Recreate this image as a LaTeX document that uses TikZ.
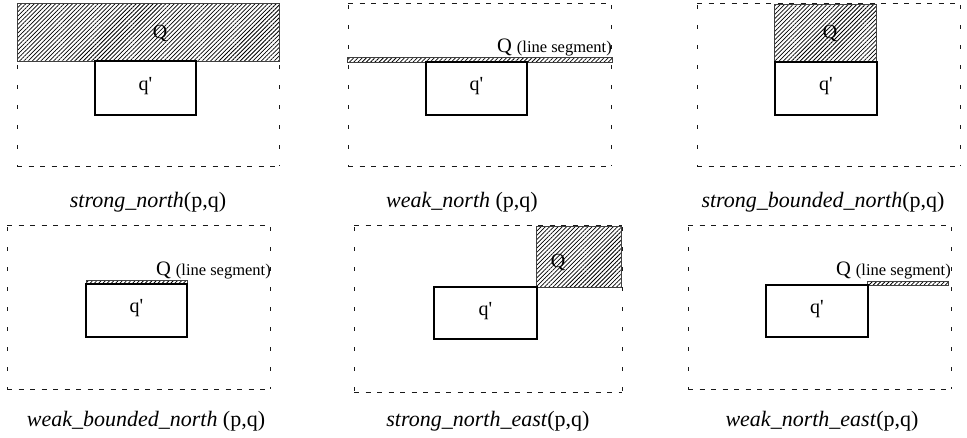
\documentclass[tikz,border=0pt]{standalone}
\usepackage{fontspec}
\setmainfont{Liberation Serif}[Ligatures=TeXOff]
\usetikzlibrary{patterns.meta}
\newcommand{\segsize}{\fontsize{16.5}{18}\selectfont}
\newcommand{\qprime}{q'}
% dashed region: horizontal sides with short gaps, vertical sides sparse
\newcommand{\regionbox}[4]{%
  \draw[hdash] (#1,#2) -- (#3,#2) (#1,#4) -- (#3,#4);
  \draw[vdash] (#1,#2) -- (#1,#4) (#3,#2) -- (#3,#4);}
\begin{document}
\begin{tikzpicture}[x=1pt,y=-1pt,
  hdash/.style={draw=black!90, line width=0.9pt, dash pattern=on 5pt off 6.5pt},
  vdash/.style={draw=black!90, line width=0.9pt, dash pattern=on 4pt off 16pt, dash phase=-2pt},
  hatch/.style={draw=black!75, line width=0.7pt, pattern={Lines[angle=45,distance=3pt,line width=0.75pt]}},
  qbox/.style={draw, line width=1.3pt, fill=white},
  qlab/.style={font=\fontsize{20}{22}\selectfont, inner sep=0pt},
  segq/.style={font=\fontsize{20.5}{22}\selectfont, inner sep=0pt, anchor=base east},
  captxt/.style={font=\fontsize{22}{24}\selectfont, inner sep=0pt, anchor=base},
  qp/.style={font=\fontsize{20}{22}\selectfont, inner sep=0pt}]
\useasboundingbox (0,0) rectangle (967,437);
% ---- panel 1 ----
\regionbox{17}{3}{279}{166}
\draw[hatch] (17,3) rectangle (279,61);
\node[qlab] (q1) at (160,33) {Q};
\draw[qbox] (95,61) rectangle (196,115);
\node[qp] (p1) at (145.5,86) {\qprime};
\node[captxt] (c1) at (148,207) {\textit{strong\_north}(p,q)};
% ---- panel 2 ----
\regionbox{348}{3}{611}{166}
\draw[hatch] (347,57) rectangle (612,62);
\draw[qbox] (426,62) rectangle (527,115);
\node[qp] (p2) at (476.5,86) {\qprime};
\node[segq] (q2) at (612,52) {Q\hspace{0.25em}{\segsize(line segment)}};
\node[captxt] (c2) at (462,207) {\textit{weak\_north} (p,q)};
% ---- panel 3 ----
\regionbox{697}{3}{960}{166}
\draw[hatch] (774,4) rectangle (876,61);
\node[qlab] (q3) at (830,33) {Q};
\draw[qbox] (775,62) rectangle (877,115);
\node[qp] (p3) at (826,86) {\qprime};
\node[captxt] (c3) at (823,207) {\textit{strong\_bounded\_north}(p,q)};
% ---- panel 4 ----
\regionbox{7}{225}{270}{389}
\draw[hatch] (86,280) rectangle (187,284);
\draw[qbox] (86,284) rectangle (187,337);
\node[qp] (p4) at (136.5,308) {\qprime};
\node[segq] (q4) at (271,275) {Q\hspace{0.25em}{\segsize(line segment)}};
\node[captxt] (c4) at (146,426) {\textit{weak\_bounded\_north} (p,q)};
% ---- panel 5 ----
\regionbox{354}{225}{622}{392}
\draw[hatch] (536,226) rectangle (621,287);
\node[qlab] (q5) at (558,262) {Q};
\draw[qbox] (434,287) rectangle (537,339);
\node[qp] (p5) at (485.5,311) {\qprime};
\node[captxt] (c5) at (488,426) {\textit{strong\_north\_east}(p,q)};
% ---- panel 6 ----
\regionbox{688}{225}{951}{389}
\draw[hatch] (867,281) rectangle (948,285);
\draw[qbox] (766,285) rectangle (868,337);
\node[qp] (p6) at (817,309) {\qprime};
\node[segq] (q6) at (951,275) {Q\hspace{0.25em}{\segsize(line segment)}};
\node[captxt] (c6) at (822,426) {\textit{weak\_north\_east}(p,q)};
\end{tikzpicture}
\end{document}
